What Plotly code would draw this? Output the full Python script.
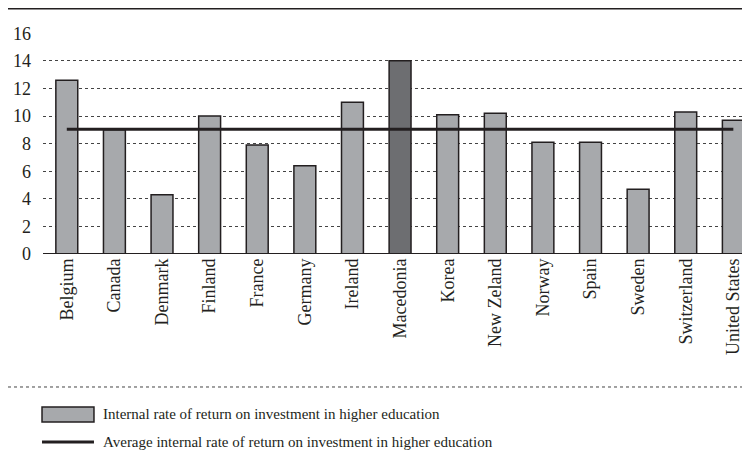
import plotly.graph_objects as go

countries = ["Belgium", "Canada", "Denmark", "Finland", "France", "Germany", "Ireland",
             "Macedonia", "Korea", "New Zeland", "Norway", "Spain", "Sweden",
             "Switzerland", "United States"]
irr = [12.6, 9.0, 4.3, 10.0, 7.9, 6.4, 11.0, 14.0, 10.1, 10.2, 8.1, 8.1, 4.7, 10.3, 9.7]
average = 9.05
highlight = "Macedonia"
y_ticks = [0, 2, 4, 6, 8, 10, 12, 14, 16]
legend_labels = ["Internal rate of return on investment in higher education",
                 "Average internal rate of return on investment in higher education"]

FONT = "Liberation Serif, serif"
LIGHT = "#a7a9ac"
DARK = "#6d6e71"
INK = "#231f20"

colors = [DARK if c == highlight else LIGHT for c in countries]

fig = go.Figure()
fig.add_trace(go.Bar(x=countries, y=irr, marker=dict(color=colors, line=dict(color=INK, width=1.5)),
                     width=0.46, showlegend=False))
fig.add_trace(go.Scatter(x=[countries[0], countries[-1]], y=[average, average], mode="lines",
                         line=dict(color=INK, width=3), showlegend=False))

# page body adds an 8px offset, so the figure is 8px smaller and shifted
fig.update_layout(
    width=742, height=461,
    margin=dict(l=35, r=0, t=25, b=215),
    plot_bgcolor="white", paper_bgcolor="white",
    font=dict(family=FONT, color=INK, size=16),
    xaxis=dict(range=[-0.5, 14.35], tickangle=-90, showgrid=False, ticks="", automargin=False,
               tickfont=dict(size=18, family=FONT, color=INK), showline=False, zeroline=False),
    yaxis=dict(range=[0, 16.02], tickvals=y_ticks, showgrid=True, gridcolor="#444444",
               griddash="dot", gridwidth=1, zeroline=False, showline=False, ticks="", automargin=False,
               ticklabelstandoff=11,
               tickfont=dict(size=18, family=FONT, color=INK)),
)

shapes = []
shapes.append(dict(type="line", xref="paper", yref="y", x0=0, x1=1, y0=0, y1=0,
                   line=dict(color=INK, width=2)))
shapes.append(dict(type="line", xref="paper", yref="paper", x0=-0.0495, x1=1, y0=1.11, y1=1.11,
                   line=dict(color=INK, width=1.5)))
shapes.append(dict(type="line", xref="paper", yref="paper", x0=-0.0495, x1=1, y0=-0.6018, y1=-0.6018,
                   line=dict(color="#444444", width=1, dash="dot")))
shapes.append(dict(type="rect", xref="paper", yref="paper", x0=-0.0014, x1=0.0721, y0=-0.692, y1=-0.760,
                   fillcolor=LIGHT, line=dict(color=INK, width=1.5)))
shapes.append(dict(type="line", xref="paper", yref="paper", x0=-0.0014, x1=0.0721, y0=-0.851, y1=-0.851,
                   line=dict(color=INK, width=3)))
fig.update_layout(shapes=shapes)

for txt, yy in zip(legend_labels, [-0.722, -0.849]):
    fig.add_annotation(xref="paper", yref="paper", x=0.082, y=yy, text=txt,
                       showarrow=False, xanchor="left", yanchor="middle",
                       font=dict(size=15, family=FONT, color=INK))

fig.write_html("out.html")
